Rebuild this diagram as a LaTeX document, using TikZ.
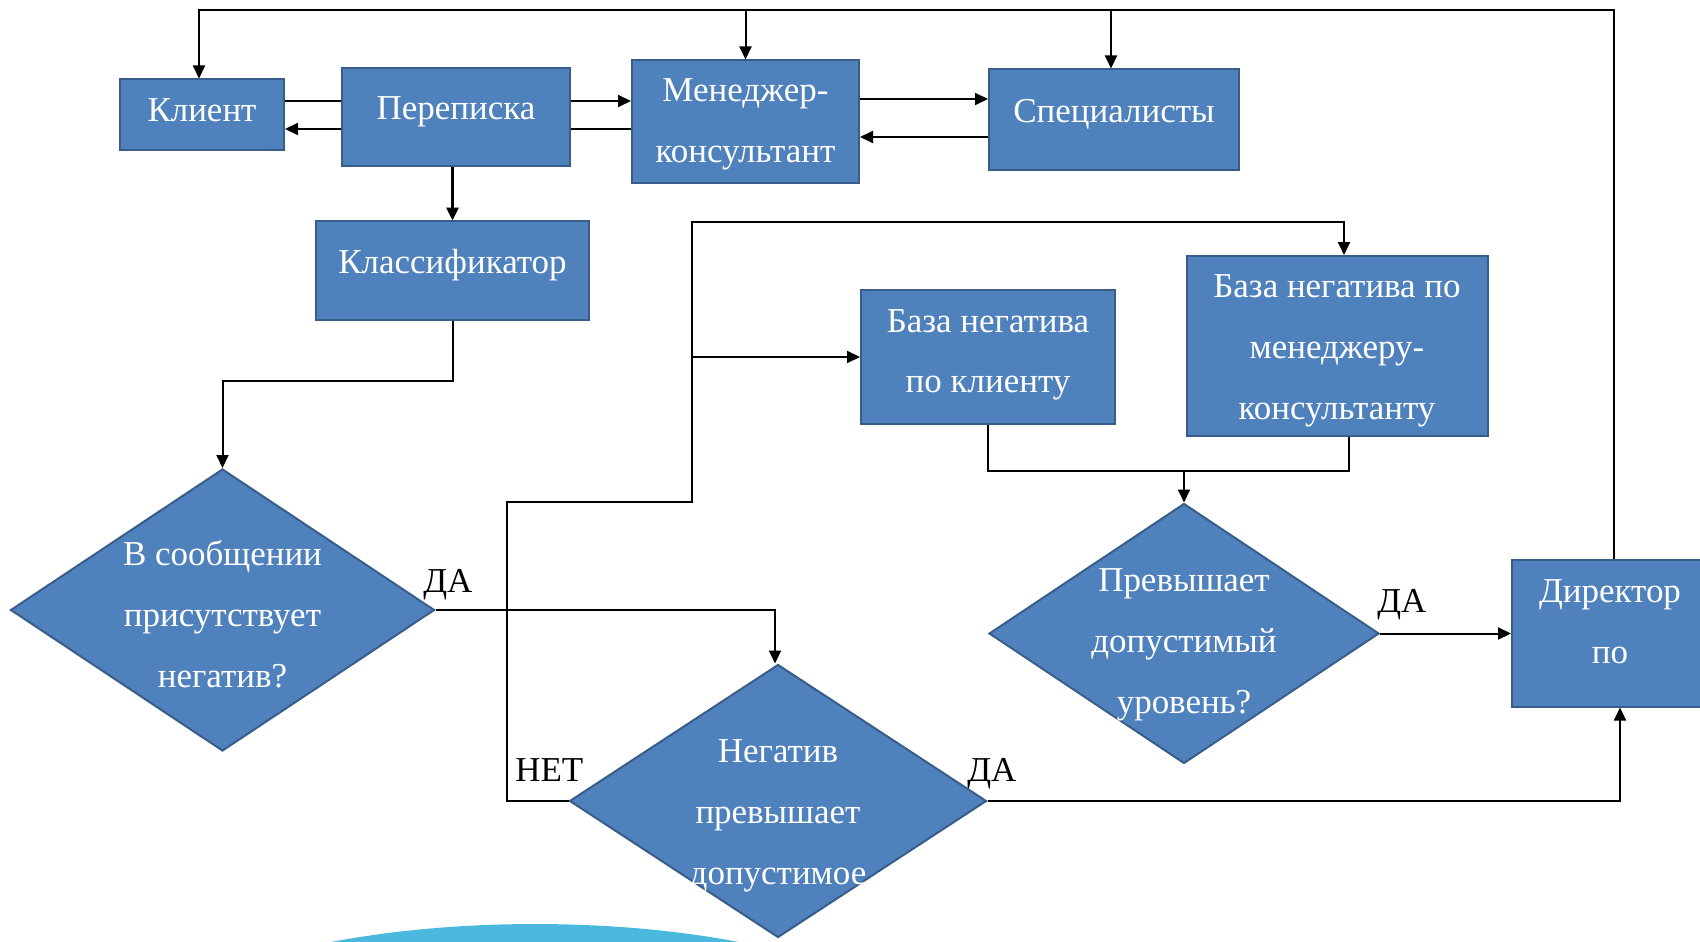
\documentclass[tikz,border=0pt]{standalone}
\usepackage{fontspec}
\setmainfont{Liberation Serif}
\usetikzlibrary{shapes.geometric,arrows.meta}
\definecolor{boxfill}{HTML}{4F81BD}
\definecolor{boxline}{HTML}{385D8A}
\definecolor{arccyan}{HTML}{4BB9DD}
\newdimen\pxu \pxu=0.02cm

\begin{document}
\begin{tikzpicture}[x=0.02cm,y=-0.02cm,
    font=\fontsize{19.9}{34.6}\selectfont,
    box/.style={draw=boxline,line width=2\pxu,fill=boxfill,text=white,
      align=center,inner sep=0pt,text height=31\pxu,text depth=26\pxu},
    decision/.style={diamond,draw=boxline,line width=2\pxu,fill=boxfill,inner sep=0pt},
    dtext/.style={text=white,align=center,inner sep=0pt,text height=169\pxu,text depth=14\pxu},
    answer/.style={anchor=base west,inner sep=0pt},
    wire/.style={line width=2\pxu},
    arrow/.style={wire,-{Triangle[length=0.26cm,width=0.24cm]}}]
  \useasboundingbox (0,0) rectangle (1700,942);
  \fill[arccyan] (535,1060) ellipse [x radius=8.2cm,y radius=2.72cm];

  \node[box,minimum width=164\pxu,minimum height=71\pxu,text height=35\pxu,text depth=22\pxu] (klient) at (202,115) {Клиент};
  \node[box,minimum width=228\pxu,minimum height=98\pxu] (perepiska) at (456,117) {Переписка};
  \node[box,minimum width=227\pxu,minimum height=123\pxu,text height=99\pxu,text depth=18\pxu] (menedzher) at (745.5,122) {Менеджер-\\консультант};
  \node[box,minimum width=250\pxu,minimum height=101\pxu] (spec) at (1114,120) {Специалисты};
  \node[box,minimum width=273\pxu,minimum height=99\pxu] (klassif) at (452.5,271) {Классификатор};
  \node[box,minimum width=254\pxu,minimum height=133\pxu,text height=95\pxu,text depth=23\pxu] (bazakl) at (988,357) {База негатива\\по клиенту};
  \node[box,minimum width=301\pxu,minimum height=180\pxu,text height=163\pxu,text depth=16\pxu] (bazamen) at (1337,346) {База негатива по\\менеджеру-\\консультанту};
  \node[box,minimum width=196\pxu,minimum height=147\pxu,text height=89\pxu,text depth=29\pxu] (direktor) at (1610,633) {Директор\\по};

  \node[decision,minimum width=424\pxu,minimum height=282\pxu] (d1) at (222.5,610) {};
  \node[decision,minimum width=417\pxu,minimum height=273\pxu] (d2) at (778,801) {};
  \node[decision,minimum width=390\pxu,minimum height=260\pxu] (d3) at (1184,633.5) {};
  \node[dtext] (d1t) at (d1) {В сообщении\\присутствует\\негатив?};
  \node[dtext,text height=175\pxu,text depth=8\pxu] (d2t) at (d2) {Негатив\\превышает\\допустимое};
  \node[dtext,text height=171\pxu,text depth=12\pxu] (d3t) at (d3) {Превышает\\допустимый\\уровень?};

  \node[answer] (da1) at (423,592) {ДА};
  \node[answer] (da2) at (967,781) {ДА};
  \node[answer] (da3) at (1377,612) {ДА};
  \node[answer] (net) at (515,781) {НЕТ};

  \coordinate (top) at (0,10);
  \coordinate (row1) at (0,101);
  \coordinate (row2) at (0,129);
  \coordinate (row3) at (0,99);
  \coordinate (row4) at (0,137);
  \coordinate (bend) at (0,381);
  \coordinate (merge) at (0,471);
  \coordinate (netA) at (507,502);
  \coordinate (netB) at (692,222);

  \draw[arrow] ([xshift=4\pxu]direktor.north) -- ([xshift=4\pxu]direktor.north |- top) -| ([xshift=-3\pxu]klient.north);
  \draw[arrow] (menedzher.north |- top) -- (menedzher.north);
  \draw[arrow] ([xshift=-3\pxu]spec.north |- top) -- ([xshift=-3\pxu]spec.north);
  \draw[wire] (klient.east |- row1) -- (perepiska.west |- row1);
  \draw[arrow] (perepiska.west |- row2) -- (klient.east |- row2);
  \draw[arrow] (perepiska.east |- row1) -- (menedzher.west |- row1);
  \draw[wire] (menedzher.west |- row2) -- (perepiska.east |- row2);
  \draw[arrow] (menedzher.east |- row3) -- (spec.west |- row3);
  \draw[arrow] (spec.west |- row4) -- (menedzher.east |- row4);
  \draw[arrow,line width=3\pxu] (perepiska.south -| klassif.north) -- (klassif.north);
  \draw[arrow] (klassif.south) -- (klassif.south |- bend) -| (d1.north);
  \draw[arrow] (d1.east) -| ([xshift=-3\pxu]d2.north);
  \draw[arrow] (d2.west) -| (netA) -| (netB) -| ([xshift=7\pxu]bazamen.north);
  \draw[arrow] (netB |- bazakl.west) -- (bazakl.west);
  \draw[wire] (bazakl.south) |- ([xshift=12\pxu]bazamen.south |- merge) -- ([xshift=12\pxu]bazamen.south);
  \draw[arrow] (d3.north |- merge) -- (d3.north);
  \draw[arrow] (d3.east) -- (d3.east -| direktor.west);
  \draw[arrow] (d2.east) -| ([xshift=10\pxu]direktor.south);
\end{tikzpicture}
\end{document}
